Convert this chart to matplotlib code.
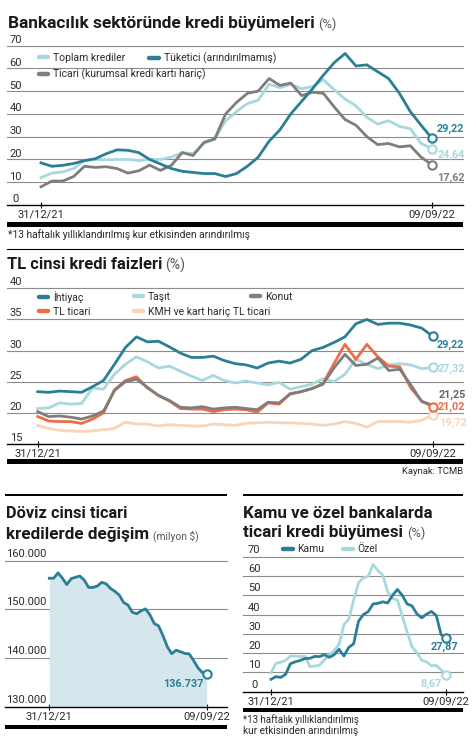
import matplotlib
matplotlib.use('Agg')
import matplotlib.pyplot as plt
from matplotlib.lines import Line2D
from matplotlib.patches import Rectangle

W, H, DPI = 476, 748, 100

# ---------------- data ----------------
weeks = list(range(37))
x_tick_pos = [0, 36]
x_tick_labels = ['31/12/21', '09/09/22']

# Panel 1: Bankacılık sektöründe kredi büyümeleri (%)
toplam = [12, 14, 14.5, 16, 19.5, 20, 19.8, 20, 20, 19.5, 20, 20, 21, 23, 22.5, 27, 29, 37,
          41, 44.5, 46, 53, 51.5, 53, 51, 52, 55, 50.5, 46.5, 43.5, 38.5, 35.5, 37, 34.5,
          33.5, 27, 24.64]
tuketici = [18.5, 17, 17.4, 18.2, 19.5, 20.3, 22.5, 24.2, 24, 23, 20, 18, 16, 14.8, 14.3,
            13.8, 13.8, 12.5, 13.8, 17, 21, 28, 33, 40, 45.5, 51, 57, 62.5, 66.5, 61, 61.5,
            58.5, 55.5, 49, 41, 35, 29.22]
ticari = [8, 10.5, 10.5, 12.5, 17, 16.5, 16.8, 16, 14, 15, 17.5, 15.2, 17.4, 23, 21.7, 27.5,
          29, 40, 45, 49, 50, 55.5, 52.5, 53.5, 48, 49.5, 49, 43, 37.5, 35, 30, 26.5, 27,
          25.5, 26, 21, 17.62]
p1_ticks = [0, 10, 20, 30, 40, 50, 60, 70]
p1_end_labels = ['29,22', '24,64', '17,62']

# Panel 2: TL cinsi kredi faizleri (%)
ihtiyac = [23.4, 23.3, 23.5, 23.4, 23.3, 24.2, 25.2, 27.8, 30.5, 32.2, 31.4, 31.5, 30.6, 29.6,
           28.9, 28.9, 29.1, 28.4, 27.9, 27.7, 27.2, 28.0, 28.3, 28.0, 28.6, 30.0, 30.5, 31.3,
           32.2, 34.3, 35.0, 34.2, 34.4, 34.4, 34.1, 33.6, 32.3]
tasit = [20.7, 20.8, 21.6, 21.4, 21.5, 24.0, 23.8, 26.2, 27.8, 29.0, 28.2, 27.2, 27.5, 26.7,
         25.9, 25.2, 26.0, 25.2, 24.8, 25.1, 24.8, 24.5, 24.9, 23.8, 24.2, 24.6, 25.5, 25.0,
         26.2, 28.6, 27.8, 27.1, 27.7, 27.9, 27.7, 27.1, 27.3]
konut = [20.2, 19.4, 19.5, 19.3, 19.0, 19.5, 20.3, 23.6, 25.0, 25.4, 24.1, 22.8, 22.0, 20.9,
         20.8, 21.0, 20.6, 20.8, 20.9, 20.7, 20.5, 21.7, 21.6, 23.0, 23.4, 23.9, 24.6, 27.2,
         29.4, 27.6, 27.8, 28.8, 26.8, 27.0, 24.5, 21.8, 21.25]
tl_ticari = [19.4, 18.7, 18.6, 18.6, 18.3, 19.0, 20.0, 23.7, 25.2, 25.8, 24.0, 22.8, 21.9, 20.7,
             20.6, 20.6, 20.2, 20.5, 20.6, 20.5, 20.1, 21.6, 21.4, 23.1, 23.4, 23.9, 24.7, 27.9,
             31.0, 28.6, 31.0, 29.0, 27.5, 27.4, 24.0, 21.9, 21.02]
kmh = [18.0, 17.5, 17.2, 17.1, 17.0, 17.1, 17.3, 17.5, 18.5, 18.2, 18.2, 17.9, 18.1, 18.0, 17.9,
       17.9, 18.2, 18.1, 18.0, 18.3, 18.4, 18.5, 18.4, 18.4, 18.3, 18.2, 18.0, 18.2, 18.6, 18.3,
       17.7, 18.6, 18.6, 18.6, 18.5, 18.8, 19.72]
p2_ticks = [15, 20, 25, 30, 35, 40]
p2_end_labels = ['29,22', '27,32', '21,25', '21,02', '19,72']

# Panel 3: Döviz cinsi ticari kredilerde değişim (milyon $)
doviz = [156400, 156400, 157500, 156400, 155100, 156300, 156600, 156850, 156000, 154500,
         154500, 154800, 155550, 155250, 154300, 153700, 152950, 151400, 150900, 149400,
         149100, 149700, 150100, 148900, 147100, 146600, 144600, 142300, 140900, 141600,
         141300, 140950, 140850, 139500, 138000, 137000, 136737]
p3_ticks = [130000, 140000, 150000, 160000]
p3_tick_labels = ['130.000', '140.000', '150.000', '160.000']
p3_end_label = '136.737'

# Panel 4: Kamu ve özel bankalarda ticari kredi büyümesi (%)
kamu = [6.4, 7.8, 7.4, 9.0, 14.5, 15.5, 16.2, 17.2, 17.3, 18.3, 18.2, 19.2, 17.8, 19.2, 22.0,
        18.5, 23.0, 24.8, 36.5, 40.0, 41.5, 45.5, 45.8, 46.6, 46.0, 50.0, 53.0, 50.0, 45.5,
        44.5, 40.4, 38.3, 40.2, 41.6, 39.5, 29.5, 27.87]
ozel = [9.8, 14.7, 15.3, 16.3, 18.5, 18.5, 18.2, 18.3, 13.0, 13.3, 13.8, 16.5, 19.0, 21.3, 24.6,
        34.8, 37.5, 47.5, 56.5, 59.0, 59.8, 66.0, 62.8, 60.4, 51.8, 48.4, 47.5, 39.2, 31.0,
        23.3, 20.3, 16.3, 15.5, 13.5, 13.6, 11.3, 8.67]
p4_ticks = [0, 10, 20, 30, 40, 50, 60, 70]
p4_end_labels = ['27,87', '8,67']

# ---------------- style ----------------
DARK = '#2b7f95'
LIGHT = '#a7d8de'
GRAY = '#7e7e7e'
ORANGE = '#ee6c46'
PEACH = '#f8d4b8'
FILL = '#d6e6ed'
GRID = '#8c8c8c'
TXT = '#2a2a2a'
TICKFS = 8.0

plt.rcParams['font.family'] = ['Roboto', 'DejaVu Sans']

fig = plt.figure(figsize=(W / DPI, H / DPI), dpi=DPI)
fig.patch.set_facecolor('white')
renderer = fig.canvas.get_renderer()


def fpos(x, y):
    return x / W, 1 - y / H


def add_ax(x0, x1, ytop, ybot, xd0, xd1, ylo, yhi, n=36):
    ax = fig.add_axes([x0 / W, 1 - ybot / H, (x1 - x0) / W, (ybot - ytop) / H])
    s = (xd1 - xd0) / n
    ax.set_xlim(-(xd0 - x0) / s, n + (x1 - xd1) / s)
    ax.set_ylim(ylo, yhi)
    for sp in ['top', 'right', 'left']:
        ax.spines[sp].set_visible(False)
    ax.spines['bottom'].set_color('black')
    ax.spines['bottom'].set_linewidth(1.0)
    ax.set_facecolor('none')
    ax.set_xticks(x_tick_pos, x_tick_labels)
    ax.tick_params(axis='x', direction='inout', length=5, width=0.8, color='black',
                   labelsize=TICKFS, pad=0.8, labelcolor=TXT)
    ax.tick_params(axis='y', left=False, labelleft=False)
    return ax


def grid_and_labels(ax, ticks, labels, xc_px, x0_px, gap, ha='center'):
    for t in ticks[1:]:
        ax.axhline(t, color=GRID, lw=0.8, zorder=1, clip_on=False)
    for t, lab in zip(ticks, labels):
        ax.annotate(lab, xy=(0, t), xycoords=('axes fraction', 'data'),
                    xytext=(xc_px - x0_px, gap), textcoords='offset pixels',
                    ha=ha, va='baseline', fontsize=TICKFS, color=TXT, annotation_clip=False)


def fit(t, target):
    bb = t.get_window_extent(renderer)
    t.set_fontsize(t.get_fontsize() * target / bb.width)


def title(x, y, s, width, suffix=None, suffix_width=None, gap=3):
    t = fig.text(*fpos(x, y), s, ha='left', va='baseline', fontsize=13, weight='semibold',
                 color='#1a1a1a')
    fit(t, width)
    if suffix:
        bb = t.get_window_extent(renderer)
        st = fig.text((bb.x1 + gap) / W, 1 - y / H, suffix, ha='left', va='baseline',
                      fontsize=9, color='#555555')
        fit(st, suffix_width)


def note(x, y, s, width, ha='left'):
    t = fig.text(*fpos(x, y), s, ha=ha, va='center', fontsize=6.5, color=TXT)
    fit(t, width)


def legend_entry(color, label, x, y, hl=0.95):
    h = Line2D([], [], color=color, lw=3.2, solid_capstyle='round')
    fig.legend([h], [label], loc='center left', bbox_to_anchor=fpos(x, y),
               frameon=False, handlelength=hl, handletextpad=0.45, borderpad=0,
               borderaxespad=0, fontsize=7.5, labelcolor=TXT)


def bar(x0, x1, y0, y1):
    fig.add_artist(Rectangle(fpos(x0, y1), (x1 - x0) / W, (y1 - y0) / H,
                             transform=fig.transFigure, color='black', lw=0))


def end_marker(ax, series, color):
    ax.plot(weeks[-1], series[-1], 'o', mfc='white', mec=color, ms=6, mew=1.5, zorder=6,
            clip_on=False)


def end_label(ax, series, text, color, dx, dy, ha='left', weight='bold'):
    ax.annotate(text, xy=(weeks[-1], series[-1]), xytext=(dx, dy),
                textcoords='offset pixels', ha=ha, va='center', fontsize=7.8,
                weight=weight, color=color, annotation_clip=False)


LW = 2.0

# ---------------- Panel 1 ----------------
title(8, 28.3, 'Bankacılık sektöründe kredi büyümeleri', 307, '(%)', 18.5)
ax1 = add_ax(7, 463, 45.5, 205, 41, 432, 0, 70)
grid_and_labels(ax1, p1_ticks, [str(t) for t in p1_ticks], 15.5, 7, 2.5)
ax1.plot(weeks, toplam, color=LIGHT, lw=LW, zorder=3)
ax1.plot(weeks, ticari, color=GRAY, lw=LW, zorder=3)
ax1.plot(weeks, tuketici, color=DARK, lw=LW, zorder=4)
end_marker(ax1, toplam, LIGHT)
end_marker(ax1, ticari, GRAY)
end_marker(ax1, tuketici, DARK)
end_label(ax1, tuketici, p1_end_labels[0], DARK, 5, 10)
end_label(ax1, toplam, p1_end_labels[1], LIGHT, 6, -6)
end_label(ax1, ticari, p1_end_labels[2], GRAY, 5, -13)
legend_entry(LIGHT, 'Toplam krediler', 38.5, 58)
legend_entry(DARK, 'Tüketici (arındırılmamış)', 149, 58)
legend_entry(GRAY, 'Ticari (kurumsal kredi kartı hariç)', 38.5, 74)
bar(7, 463, 221.8, 227.2)
note(8, 234.5, '*13 haftalık yıllıklandırılmış kur etkisinden arındırılmış', 240)
fig.add_artist(Line2D([7 / W, 463 / W], [1 - 249 / H, 1 - 249 / H], transform=fig.transFigure,
                      color='black', lw=0.8))

# ---------------- Panel 2 ----------------
title(7, 269.3, 'TL cinsi kredi faizleri', 156, '(%)', 20)
ax2 = add_ax(7, 463, 288.3, 444, 37.7, 432.7, 15, 40)
grid_and_labels(ax2, p2_ticks, [str(t) for t in p2_ticks], 15.8, 7, 3)
ax2.plot(weeks, kmh, color=PEACH, lw=LW, zorder=3)
ax2.plot(weeks, tasit, color=LIGHT, lw=LW, zorder=3)
ax2.plot(weeks, tl_ticari, color=ORANGE, lw=LW, zorder=3)
ax2.plot(weeks, konut, color=GRAY, lw=LW, zorder=3)
ax2.plot(weeks, ihtiyac, color=DARK, lw=LW, zorder=4)
end_marker(ax2, ihtiyac, DARK)
end_marker(ax2, tasit, LIGHT)
end_marker(ax2, kmh, PEACH)
end_marker(ax2, tl_ticari, ORANGE)
end_label(ax2, ihtiyac, p2_end_labels[0], DARK, 4, -8.5)
end_label(ax2, tasit, p2_end_labels[1], LIGHT, 5, -1)
end_label(ax2, konut, p2_end_labels[2], '#666666', 6, 10)
end_label(ax2, tl_ticari, p2_end_labels[3], ORANGE, 5, 0)
end_label(ax2, kmh, p2_end_labels[4], PEACH, 6, -8.5)
legend_entry(DARK, 'İhtiyaç', 38.5, 297)
legend_entry(LIGHT, 'Taşıt', 133.5, 297)
legend_entry(GRAY, 'Konut', 250.5, 297)
legend_entry(ORANGE, 'TL ticari', 38.5, 312)
legend_entry(PEACH, 'KMH ve kart hariç TL ticari', 133.5, 312)
bar(7, 463, 459.3, 464)
note(463, 472, 'Kaynak: TCMB', 61, ha='right')

# ---------------- Panel 3 ----------------
fig.add_artist(Rectangle(fpos(5, 496), 222 / W, 2 / H, transform=fig.transFigure,
                         color='black', lw=0))
title(6, 518.3, 'Döviz cinsi ticari', 122)
title(6, 539, 'kredilerde değişim', 144, '(milyon $)', 46, gap=4)
ax3 = add_ax(5, 227, 560.7, 706.7, 49.3, 206.7, 130000, 160000)
grid_and_labels(ax3, p3_ticks, p3_tick_labels, 6, 5, 4, ha='left')
ax3.fill_between(weeks, doviz, 130000, color=FILL, lw=0, zorder=2)
ax3.plot(weeks, doviz, color=DARK, lw=LW, zorder=4)
end_marker(ax3, doviz, DARK)
end_label(ax3, doviz, p3_end_label, DARK, -23, -10.5, ha='center')
bar(5, 227, 725, 729)

# ---------------- Panel 4 ----------------
fig.add_artist(Rectangle(fpos(243, 496), 220 / W, 2 / H, transform=fig.transFigure,
                         color='black', lw=0))
title(243, 518.3, 'Kamu ve özel bankalarda', 190)
title(243, 537.5, 'ticari kredi büyümesi', 161, '(%)', 18.5, gap=4)
ax4 = add_ax(243, 463, 556.7, 691.7, 271, 446, 0, 70)
grid_and_labels(ax4, p4_ticks, [str(t) for t in p4_ticks], 254.3, 243, 4)
ax4.plot(weeks, ozel, color=LIGHT, lw=LW, zorder=3)
ax4.plot(weeks, kamu, color=DARK, lw=LW, zorder=4)
end_marker(ax4, ozel, LIGHT)
end_marker(ax4, kamu, DARK)
end_label(ax4, kamu, p4_end_labels[0], DARK, -1.5, -9, ha='center')
end_label(ax4, ozel, p4_end_labels[1], LIGHT, -15, -8.5, ha='center')
legend_entry(DARK, 'Kamu', 283, 549.3)
legend_entry(LIGHT, 'Özel', 343, 549.3)
bar(243, 463, 708.3, 711.7)
note(243, 720, '*13 haftalık yıllıklandırılmış', 115)
note(243, 730.5, 'kur etkisinden arındırılmış', 113)

fig.savefig('out.png', dpi=DPI, facecolor='white')
